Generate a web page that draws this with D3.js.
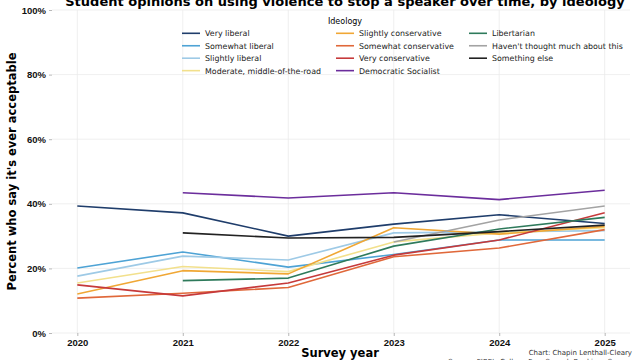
<!DOCTYPE html>
<html>
<head>
<meta charset="utf-8">
<script src="https://cdn.jsdelivr.net/npm/d3@7"></script>
<style>
  body { margin: 0; background: #fff; }
  svg { font-family: "DejaVu Sans", sans-serif; }
</style>
</head>
<body>
<div id="chart"></div>
<script>
// survey years
const years = [2020, 2021, 2022, 2023, 2024, 2025];

// ideology groups, in legend order
const groups = [
  'Very liberal', 'Somewhat liberal', 'Slightly liberal', 'Moderate, middle-of-the-road',
  'Slightly conservative', 'Somewhat conservative', 'Very conservative', 'Democratic Socialist',
  'Libertarian', "Haven't thought much about this", 'Something else'
];

const groupColors = [
  '#1f3d6b', '#4ea3d5', '#9ecae6', '#f2e08c',
  '#f0a735', '#e0683a', '#c63a3b', '#6b2d9c',
  '#2e7a5b', '#a3a3a3', '#222222'
];

// percent who say it's ever acceptable (null = not asked that year)
const veryLiberal = [39.3, 37.2, 30.0, 33.7, 36.6, 33.9];
const somewhatLiberal = [20.1, 25.1, 20.4, 24.3, 28.8, 28.8];
const slightlyLiberal = [17.6, 23.8, 22.6, 31.0, 31.3, 31.7];
const moderate = [15.5, 20.6, 19.0, 28.2, 31.0, 32.6];
const slightlyConservative = [12.1, 19.3, 18.3, 32.6, 30.6, 33.0];
const somewhatConservative = [10.8, 12.3, 14.1, 23.6, 26.3, 32.0];
const veryConservative = [14.9, 11.5, 15.5, 24.1, 28.8, 37.2];
const democraticSocialist = [null, 43.4, 41.8, 43.4, 41.3, 44.2];
const libertarian = [null, 16.2, 17.0, 26.9, 32.2, 35.8];
const havenNotThought = [null, null, null, 28.2, 35.0, 39.3];
const somethingElse = [null, 31.0, 29.4, 29.6, 31.4, 33.4];

const seriesValues = [
  veryLiberal, somewhatLiberal, slightlyLiberal, moderate,
  slightlyConservative, somewhatConservative, veryConservative, democraticSocialist,
  libertarian, havenNotThought, somethingElse
];

const yTicks = [0, 20, 40, 60, 80, 100];

const width = 640;
const height = 360;
const margin = { top: 10, right: 10, bottom: 27, left: 52 };

const svg = d3.select('#chart')
  .append('svg')
  .attr('width', width)
  .attr('height', height);

const x = d3.scaleLinear()
  .domain([2019.76, 2025.24])
  .range([margin.left, width - margin.right]);

const y = d3.scaleLinear()
  .domain([0, 100])
  .range([height - margin.bottom, margin.top]);

// grid
svg.append('g')
  .selectAll('line')
  .data(yTicks)
  .enter()
  .append('line')
  .attr('x1', margin.left)
  .attr('x2', width - margin.right)
  .attr('y1', function (d) { return y(d); })
  .attr('y2', function (d) { return y(d); })
  .style('stroke', '#ebebeb')
  .style('stroke-width', 0.8);

svg.append('g')
  .selectAll('line')
  .data(years)
  .enter()
  .append('line')
  .attr('x1', function (d) { return x(d); })
  .attr('x2', function (d) { return x(d); })
  .attr('y1', margin.top)
  .attr('y2', height - margin.bottom)
  .style('stroke', '#ebebeb')
  .style('stroke-width', 0.8);

// axes
let yAxis = svg.append('g')
  .attr('transform', 'translate(' + margin.left + ',0)')
  .call(d3.axisLeft(y).tickValues(yTicks).tickFormat(function (d) { return d + '%'; }).tickSize(3).tickPadding(3));

let xAxis = svg.append('g')
  .attr('transform', 'translate(0,' + (height - margin.bottom) + ')')
  .call(d3.axisBottom(x).tickValues(years).tickFormat(d3.format('d')).tickSize(3).tickPadding(3));

[yAxis, xAxis].forEach(function (ax) {
  ax.select('.domain').remove();
  ax.selectAll('.tick line').style('stroke', '#888').style('stroke-width', 0.6);
  ax.selectAll('.tick text')
    .style('font-size', '9.5px')
    .style('font-weight', 'bold')
    .style('fill', '#111');
});

// lines
let line = d3.line()
  .defined(function (d) { return d != null; })
  .x(function (d, i) { return x(years[i]); })
  .y(function (d) { return y(d); });

svg.append('g')
  .selectAll('path')
  .data(seriesValues)
  .enter()
  .append('path')
  .attr('d', line)
  .style('fill', 'none')
  .style('stroke', function (d, i) { return groupColors[i]; })
  .style('stroke-width', 1.6)
  .style('stroke-linejoin', 'round');

// title and axis labels (title sits partly above the top edge, as in the original)
svg.append('text')
  .attr('x', 345)
  .attr('y', 6)
  .style('text-anchor', 'middle')
  .style('font-size', '13px')
  .style('font-weight', 'bold')
  .text('Student opinions on using violence to stop a speaker over time, by ideology');

svg.append('text')
  .attr('transform', 'translate(16,' + ((margin.top + height - margin.bottom) / 2) + ') rotate(-90)')
  .style('text-anchor', 'middle')
  .style('font-size', '11.5px')
  .style('font-weight', 'bold')
  .text("Percent who say it's ever acceptable");

svg.append('text')
  .attr('x', 340)
  .attr('y', 357)
  .style('text-anchor', 'middle')
  .style('font-size', '11.5px')
  .style('font-weight', 'bold')
  .text('Survey year');

svg.append('text')
  .attr('x', 632)
  .attr('y', 355)
  .style('text-anchor', 'end')
  .style('font-size', '7px')
  .style('fill', '#333')
  .text('Chart: Chapin Lenthall-Cleary');

svg.append('text')
  .attr('x', 632)
  .attr('y', 364)
  .style('text-anchor', 'end')
  .style('font-size', '7px')
  .style('fill', '#333')
  .text("Source: FIRE's College Free Speech Rankings Survey");

// legend
svg.append('text')
  .attr('x', 345)
  .attr('y', 24)
  .style('text-anchor', 'middle')
  .style('font-size', '8px')
  .text('Ideology');

const legendCols = [182, 336, 469];
const rowsPerCol = 4;

let legend = svg.selectAll('.legend')
  .data(groups)
  .enter()
  .append('g')
  .attr('class', 'legend')
  .attr('transform', function (d, i) {
    let col = i < 4 ? 0 : (i < 8 ? 1 : 2);
    let row = col === 2 ? i - 8 : i % rowsPerCol;
    return 'translate(' + legendCols[col] + ',' + (33.3 + row * 12.45) + ')';
  });

legend.append('line')
  .attr('x1', 0)
  .attr('x2', 18)
  .style('stroke', function (d, i) { return groupColors[i]; })
  .style('stroke-width', 1.6);

legend.append('text')
  .attr('x', 23)
  .attr('y', 3)
  .style('font-size', '7.9px')
  .style('fill', '#222')
  .text(function (d) { return d; });
</script>
</body>
</html>
